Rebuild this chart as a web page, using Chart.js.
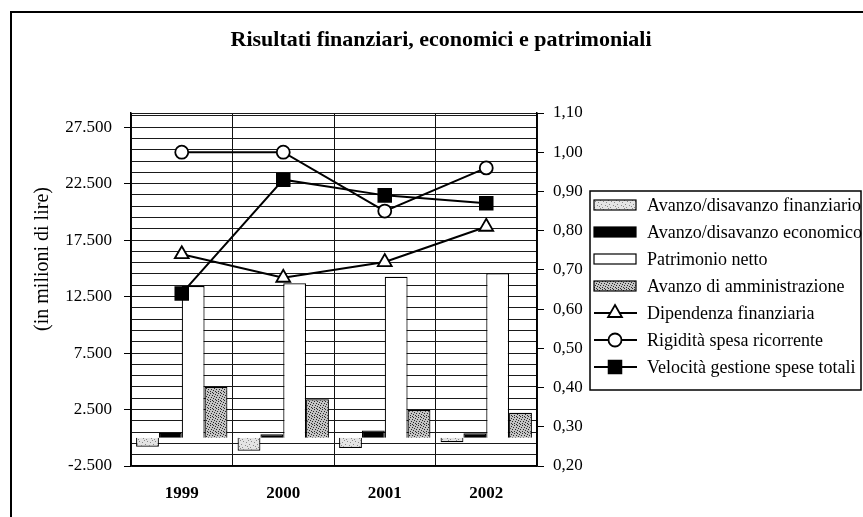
<!DOCTYPE html>
<html><head><meta charset="utf-8">
<script src="https://cdn.jsdelivr.net/npm/chart.js@4/dist/chart.umd.min.js"></script>
<style>html,body{margin:0;padding:0;background:#fff}#wrap{width:863px;height:517px;position:relative;overflow:hidden}</style>
</head><body><div id="wrap"><canvas id="c" width="863" height="517"></canvas></div>
<script>
const categories = ['1999', '2000', '2001', '2002'];
const avanzoFinanziario = [-800, -1150, -900, -400];
const avanzoEconomico = [450, 300, 650, 400];
const patrimonioNetto = [13430, 13670, 14260, 14560];
const avanzoAmministrazione = [4520, 3400, 2460, 2220];
const dipendenzaFinanziaria = [0.74, 0.68, 0.72, 0.81];
const rigiditaSpesa = [1.00, 1.00, 0.85, 0.96];
const velocitaGestione = [0.64, 0.93, 0.89, 0.87];
const leftTickValues = [-2500, 2500, 7500, 12500, 17500, 22500, 27500];
const leftTickLabels = ['-2.500', '2.500', '7.500', '12.500', '17.500', '22.500', '27.500'];
const rightTickValues = [0.2, 0.3, 0.4, 0.5, 0.6, 0.7, 0.8, 0.9, 1.0, 1.1];
const rightTickLabels = ['0,20', '0,30', '0,40', '0,50', '0,60', '0,70', '0,80', '0,90', '1,00', '1,10'];
const seriesLabels = ['Avanzo/disavanzo finanziario', 'Avanzo/disavanzo economico', 'Patrimonio netto',
  'Avanzo di amministrazione', 'Dipendenza finanziaria', 'Rigidità spesa ricorrente', 'Velocità gestione spese totali'];
const chartTitle = 'Risultati finanziari, economici e patrimoniali';
const leftAxisTitle = '(in milioni di lire)';

const LEFT_MIN = -2500, LEFT_MAX = 28750, LEFT_MINOR = 1000;
const SERIF = '"Liberation Serif", "Times New Roman", serif';

function makePattern(bg, dot, dots) {
  const c = document.createElement('canvas');
  c.width = 8; c.height = 8;
  const g = c.getContext('2d');
  g.fillStyle = bg; g.fillRect(0, 0, 8, 8);
  g.fillStyle = dot;
  dots.forEach(p => g.fillRect(p[0], p[1], 1, 1));
  return g.createPattern(c, 'repeat');
}
const patFin = makePattern('#e4e4e4', '#8a8a8a', [[0,0],[3,1],[6,2],[1,4],[5,5],[2,7],[7,6]]);
const patAmm = makePattern('#c4c4c4', '#2a2a2a', [[0,0],[2,1],[5,1],[7,2],[1,3],[4,3],[6,4],[0,5],[3,5],[5,6],[2,7],[7,7],[4,0]]);

const bgPlugin = {
  id: 'decor',
  beforeDraw(chart) {
    const ctx = chart.ctx;
    ctx.save();
    ctx.fillStyle = '#fff';
    ctx.fillRect(0, 0, chart.width, chart.height);
    ctx.restore();
  },
  afterDraw(chart) {
    const ctx = chart.ctx;
    ctx.save();
    // outer frame
    ctx.strokeStyle = '#000'; ctx.lineWidth = 2;
    ctx.strokeRect(11, 12, 900, 600);
    // title
    ctx.fillStyle = '#000';
    ctx.font = 'bold 22px ' + SERIF;
    ctx.textAlign = 'center'; ctx.textBaseline = 'middle';
    ctx.fillText(chartTitle, 441, 40);
    // left axis title
    ctx.save();
    ctx.translate(43, 259);
    ctx.rotate(-Math.PI / 2);
    ctx.font = '20px ' + SERIF;
    ctx.fillText(leftAxisTitle, 0, 0);
    ctx.restore();
    // legend
    const lx = 590, ly = 191, lw = 271, lh = 199;
    ctx.lineWidth = 1.5; ctx.strokeStyle = '#000';
    ctx.strokeRect(lx, ly, lw, lh);
    const rowY = [205, 232, 259, 286, 313, 340, 367];
    ctx.font = '18px ' + SERIF;
    ctx.textAlign = 'left'; ctx.textBaseline = 'middle';
    chart.data.datasets.forEach((ds, i) => {
      const y = rowY[i];
      if (ds.type === 'bar') {
        ctx.fillStyle = ds.backgroundColor;
        ctx.fillRect(594, y - 5, 42, 10);
        ctx.lineWidth = 1.2; ctx.strokeStyle = '#000';
        ctx.strokeRect(594, y - 5, 42, 10);
      } else {
        ctx.lineWidth = 2; ctx.strokeStyle = '#000';
        ctx.beginPath(); ctx.moveTo(594, y); ctx.lineTo(637, y); ctx.stroke();
        ctx.fillStyle = ds.pointBackgroundColor; ctx.strokeStyle = '#000';
        ctx.lineWidth = ds.pointBorderWidth;
        ctx.beginPath();
        if (ds.pointStyle === 'circle') ctx.arc(615, y, ds.pointRadius, 0, Math.PI * 2);
        else if (ds.pointStyle === 'triangle') {
          const r = ds.pointRadius;
          ctx.moveTo(615, y - r); ctx.lineTo(615 + r * 0.866, y + r * 0.5); ctx.lineTo(615 - r * 0.866, y + r * 0.5); ctx.closePath();
        } else { const s = ds.pointRadius * Math.SQRT1_2; ctx.rect(615 - s, y - s, 2 * s, 2 * s); }
        ctx.fill(); ctx.stroke();
      }
      ctx.fillStyle = '#000';
      ctx.fillText(ds.label, 647, y + 1);
    });
    ctx.restore();
  }
};

const gridValues = [];
for (let v = LEFT_MIN; v < LEFT_MAX; v += LEFT_MINOR) gridValues.push(v);
gridValues.push(LEFT_MAX);

const barCommon = { type: 'bar', yAxisID: 'y', borderColor: '#000', borderWidth: 1.2,
  categoryPercentage: 0.9, barPercentage: 1.0, order: 10 };
const lineCommon = { type: 'line', yAxisID: 'y2', borderColor: '#000', borderWidth: 2,
  pointBorderColor: '#000', pointBorderWidth: 1.8, tension: 0, order: 1, fill: false };

new Chart(document.getElementById('c'), {
  data: {
    labels: categories,
    datasets: [
      Object.assign({}, barCommon, { label: seriesLabels[0], data: avanzoFinanziario, backgroundColor: patFin }),
      Object.assign({}, barCommon, { label: seriesLabels[1], data: avanzoEconomico, backgroundColor: '#000' }),
      Object.assign({}, barCommon, { label: seriesLabels[2], data: patrimonioNetto, backgroundColor: '#fff' }),
      Object.assign({}, barCommon, { label: seriesLabels[3], data: avanzoAmministrazione, backgroundColor: patAmm }),
      Object.assign({}, lineCommon, { label: seriesLabels[4], data: dipendenzaFinanziaria, pointStyle: 'triangle', pointRadius: 8, pointBackgroundColor: '#fff' }),
      Object.assign({}, lineCommon, { label: seriesLabels[5], data: rigiditaSpesa, pointStyle: 'circle', pointRadius: 6.5, pointBackgroundColor: '#fff' }),
      Object.assign({}, lineCommon, { label: seriesLabels[6], data: velocitaGestione, pointStyle: 'rect', pointRadius: 9, pointBackgroundColor: '#000' })
    ]
  },
  options: {
    responsive: false, animation: false, devicePixelRatio: 1,
    layout: { padding: { top: 113, left: 0, right: 0, bottom: 0 } },
    plugins: { legend: { display: false }, title: { display: false }, tooltip: { enabled: false } },
    scales: {
      x: {
        type: 'category', offset: true,
        grid: { offset: true, color: '#111', lineWidth: 1, drawTicks: false },
        border: { color: '#000', width: 1.5 },
        ticks: { color: '#000', font: { family: SERIF, size: 17, weight: 'bold' }, padding: 17, maxRotation: 0 },
        afterFit(s) { s.height = 51; }
      },
      y: {
        position: 'left', min: LEFT_MIN, max: LEFT_MAX,
        afterBuildTicks(s) { s.ticks = gridValues.map(v => ({ value: v })); },
        ticks: { color: '#000', font: { family: SERIF, size: 17 }, padding: 12, autoSkip: false,
          callback(v) { const i = leftTickValues.indexOf(v); return i >= 0 ? leftTickLabels[i] : ''; } },
        grid: { color: '#1a1a1a', lineWidth: 1, tickLength: 7,
          tickColor(ctx) { return ctx.tick && leftTickValues.indexOf(ctx.tick.value) >= 0 ? '#000' : 'rgba(0,0,0,0)'; } },
        border: { color: '#000', width: 1.5 },
        afterFit(s) { s.width = 131; }
      },
      y2: {
        position: 'right', min: 0.2, max: 1.1,
        afterBuildTicks(s) { s.ticks = rightTickValues.map(v => ({ value: v })); },
        ticks: { color: '#000', font: { family: SERIF, size: 17 }, padding: 9, autoSkip: false,
          callback(v) { const i = rightTickValues.findIndex(t => Math.abs(t - v) < 1e-9); return i >= 0 ? rightTickLabels[i] : ''; } },
        grid: { drawOnChartArea: false, tickLength: 7, tickColor: '#000' },
        border: { color: '#000', width: 1.5 },
        afterFit(s) { s.width = 326; }
      }
    }
  },
  plugins: [bgPlugin]
});
</script>
</body></html>
